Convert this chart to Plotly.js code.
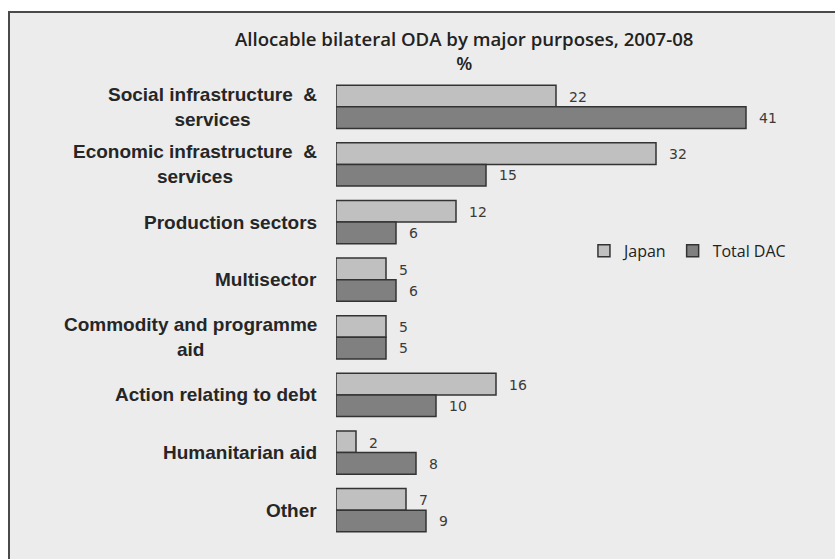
<!DOCTYPE html>
<html>
<head>
<meta charset="utf-8">
<script src="https://cdn.plot.ly/plotly-3.0.1.min.js"></script>
<style>
html,body{margin:0;padding:0;background:#ffffff;width:835px;height:559px;overflow:hidden;}
#frame{position:absolute;left:8px;top:11px;width:900px;height:600px;background:#ececec;border-left:2px solid #4a4a4a;border-top:2px solid #4a4a4a;}
#chart{position:absolute;left:0;top:0;width:835px;height:559px;}
</style>
</head>
<body>
<div id="frame"></div>
<div id="chart"></div>
<script>
const categories = [
  "Social infrastructure  &<br>services",
  "Economic infrastructure  &<br>services",
  "Production sectors",
  "Multisector",
  "Commodity and programme<br>aid",
  "Action relating to debt",
  "Humanitarian aid",
  "Other"
];
const japan = [22, 32, 12, 5, 5, 16, 2, 7];
const totalDAC = [41, 15, 6, 6, 5, 10, 8, 9];
const seriesNames = ["Japan", "Total DAC"];
const titleText = "Allocable bilateral ODA by major purposes, 2007-08<br>%";

const ids = categories.map((c, i) => "c" + i);

const traces = [
  {type: "bar", orientation: "h", name: seriesNames[0], y: ids, x: japan,
   marker: {color: "#c0c0c0", line: {color: "#333333", width: 1.5}}, hoverinfo: "x"},
  {type: "bar", orientation: "h", name: seriesNames[1], y: ids, x: totalDAC,
   marker: {color: "#808080", line: {color: "#333333", width: 1.5}}, hoverinfo: "x"}
];

const annotations = [];
categories.forEach((c, i) => {
  annotations.push({xref: "paper", yref: "y", x: 0, y: ids[i], xanchor: "right", yanchor: "middle",
    xshift: -17, text: c, showarrow: false, align: "center",
    font: {family: "Liberation Sans, Arial", size: 19, weight: "bold", color: "#262626"}});
});
[japan, totalDAC].forEach((arr, s) => {
  arr.forEach((v, i) => {
    annotations.push({xref: "x", yref: "y", x: v, y: ids[i], xanchor: "left", yanchor: "middle",
      xshift: 11, yshift: s === 0 ? 10 : -11, text: String(v), showarrow: false,
      font: {family: "DejaVu Sans", size: 14, color: "#3a3a3a"}});
  });
});

const layout = {
  width: 835, height: 559,
  paper_bgcolor: "rgba(0,0,0,0)", plot_bgcolor: "rgba(0,0,0,0)",
  margin: {l: 336, r: 49, t: 78, b: 20},
  title: {text: titleText, x: 0.556, xanchor: "center", y: 0.918, yanchor: "top",
    font: {family: "Open Sans", size: 18.6, weight: 600, color: "#222222"}},
  barmode: "group", bargap: 0.25, bargroupgap: 0,
  xaxis: {range: [0, 45], showgrid: false, zeroline: false, showticklabels: false, showline: false, ticks: ""},
  yaxis: {autorange: "reversed", showticklabels: false, showgrid: false, showline: false, ticks: "", type: "category"},
  showlegend: true,
  legend: {orientation: "h", x: 0.551, y: 0.662, xanchor: "left", yanchor: "top",
    bgcolor: "rgba(0,0,0,0)", font: {family: "Open Sans", size: 16, color: "#222222"},
    itemwidth: 30, traceorder: "normal"},
  annotations: annotations
};

Plotly.newPlot("chart", traces, layout, {displayModeBar: false, staticPlot: true});
</script>
</body>
</html>
